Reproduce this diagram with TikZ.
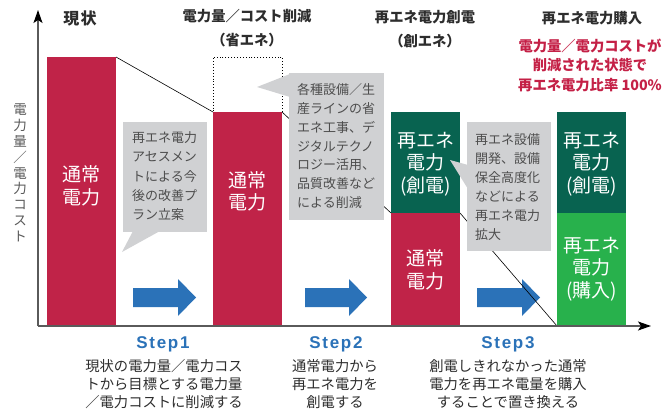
\documentclass[tikz,border=0pt]{standalone}
\usepackage{fontspec}
\newfontfamily\jp{Noto Sans CJK JP}
\newfontfamily\stepf[LetterSpace=10]{Liberation Sans}
\usetikzlibrary{arrows.meta}
\definecolor{barred}{RGB}{192,35,72}
\definecolor{dkgreen}{RGB}{8,99,80}
\definecolor{ltgreen}{RGB}{40,177,76}
\definecolor{arrblue}{RGB}{43,114,184}
\definecolor{callgray}{RGB}{208,209,211}
\definecolor{txtgray}{RGB}{77,77,77}
\definecolor{hdgray}{RGB}{45,45,45}
\definecolor{redtxt}{RGB}{196,32,70}
\definecolor{axgray}{RGB}{90,90,90}
\tikzset{
  bar/.style={draw=none, inner sep=0, outer sep=0, anchor=north west, minimum width=69},
  dotbox/.style={draw=black, dotted, line width=0.9pt, inner sep=0, outer sep=0, anchor=north west, minimum width=69},
  conn/.style={draw=black, line width=0.6pt},
  axisline/.style={draw=axgray, line width=1.2pt, -{Stealth[length=13pt,width=9pt,inset=3pt,color=black]}},
  callbox/.style={fill=callgray, draw=none, inner sep=0, outer sep=0, anchor=north west},
  calltext/.style={text=txtgray, inner sep=0, anchor=north west, align=left},
  bartext/.style={text=white, inner sep=0, align=center, font=\jp\fontsize{19}{22.5}\selectfont},
  head/.style={text=hdgray, inner sep=0, align=center, font=\jp\bfseries\fontsize{14.3}{24}\selectfont},
  redhead/.style={text=redtxt, inner sep=0, align=center, font=\jp\bfseries\fontsize{14.3}{19.5}\selectfont},
  steplabel/.style={text=arrblue, inner sep=0, font=\stepf\bfseries\fontsize{17}{20}\selectfont},
  stepdesc/.style={text=hdgray, inner sep=0, align=center, font=\jp\fontsize{14.3}{18.4}\selectfont},
}
\newcommand\bluearr[2]{\fill[arrblue] (#1,288) -- (#2-18,288) -- (#2-18,279) -- (#2,297.5) -- (#2-18,316) -- (#2-18,307) -- (#1,307) -- cycle;}
\begin{document}
\begin{tikzpicture}[x=1pt,y=-1pt]
\useasboundingbox (0,0) rectangle (663,409);
% bars
\node[bar, fill=barred, minimum height=269] (b1) at (47,57) {};
\node[dotbox, minimum height=55] (d2) at (213,57) {};
\node[bar, fill=barred, minimum height=214] (b2) at (213,112) {};
\node[bar, fill=dkgreen, minimum height=101] (g3) at (391,112) {};
\node[bar, fill=barred, minimum height=113] (r3) at (391,213) {};
\node[bar, fill=dkgreen, minimum height=101] (g4) at (557,112) {};
\node[bar, fill=ltgreen, minimum height=113] (p4) at (557,213) {};
% bar texts
\node[bartext] (bt1) at (81.5,186) {通常\\電力};
\node[bartext] (bt2) at (247.5,191.5) {通常\\電力};
\node[bartext] (bt3) at (425.5,164) {再エネ\\電力\\(創電)};
\node[bartext] (bt4) at (425.5,270) {通常\\電力};
\node[bartext] (bt5) at (591.5,164) {再エネ\\電力\\(創電)};
\node[bartext] (bt6) at (591.5,269) {再エネ\\電力\\(購入)};
% blue arrows
\bluearr{133}{196}
\bluearr{305}{367}
\bluearr{477}{540}
% connectors
\draw[conn] (b1.north east) -- (b2.north west);
\draw[conn] (b2.north east) -- (g3.south west);
\draw[conn] (g3.south east) -- (p4.south west);
% callouts
\node[callbox, minimum width=84, minimum height=110] (c1) at (123,122) {};
\fill[callgray] (133,231) -- (122,252) -- (160,231) -- cycle;
\node[calltext, font=\jp\fontsize{13}{19.3}\selectfont] (t1) at (132,131.5) {再エネ電力\\アセスメン\\トによる今\\後の改善プ\\ラン立案};
\node[callbox, minimum width=95, minimum height=147] (c2) at (289,73) {};
\fill[callgray] (290,74) -- (257,87) -- (290,97) -- cycle;
\node[calltext, font=\jp\fontsize{13}{18.8}\selectfont] (t2) at (297,83.5) {各種設備／生\\産ラインの省\\エネ工事、デ\\ジタルテクノ\\ロジー活用、\\品質改善など\\による削減};
\node[callbox, minimum width=84, minimum height=129] (c3) at (467,122) {};
\fill[callgray] (468,165) -- (450,160) -- (468,189) -- cycle;
\node[calltext, font=\jp\fontsize{13}{19}\selectfont] (t3) at (475,133.5) {再エネ設備\\開発、設備\\保全高度化\\などによる\\再エネ電力\\拡大};
% axes
\coordinate (O) at (38,326);
\coordinate (ytop) at (38,10);
\coordinate (xend) at (651,326);
\draw[axisline] (O) -- (ytop);
\draw[axisline] (O) -- (xend);
\node[text=axgray, inner sep=0, align=center, font=\jp\fontsize{13.5}{15.8}\selectfont] (ylab) at (20,173) {電\\力\\量\\／\\電\\力\\コ\\ス\\ト};
% headers
\node[head, font=\jp\bfseries\fontsize{16}{20}\selectfont] (h1) at (80,18) {現\kern1.5pt 状};
\node[head] (h2) at (247,28) {電力量／コスト削減\\（省エネ）};
\node[head] (h3) at (425,29) {再エネ電力創電\\（創エネ）};
\node[head] (h4) at (592,18) {再エネ電力購入};
\node[redhead] (h5) at (590,65) {電力量／電力コストが\\削減された状態で\\再エネ電力比率 100\%};
% steps
\node[steplabel] (s1) at (163,344) {Step1};
\node[steplabel] (s2) at (336,344) {Step2};
\node[steplabel] (s3) at (508,344) {Step3};
\node[stepdesc] (sd1) at (164,384) {現状の電力量／電力コス\\トから目標とする電力量\\／電力コストに削減する};
\node[stepdesc] (sd2) at (335,384) {通常電力から\\再エネ電力を\\創電する};
\node[stepdesc] (sd3) at (508,384) {創電しきれなかった通常\\電力を再エネ電量を購入\\することで置き換える};
\end{tikzpicture}
\end{document}
